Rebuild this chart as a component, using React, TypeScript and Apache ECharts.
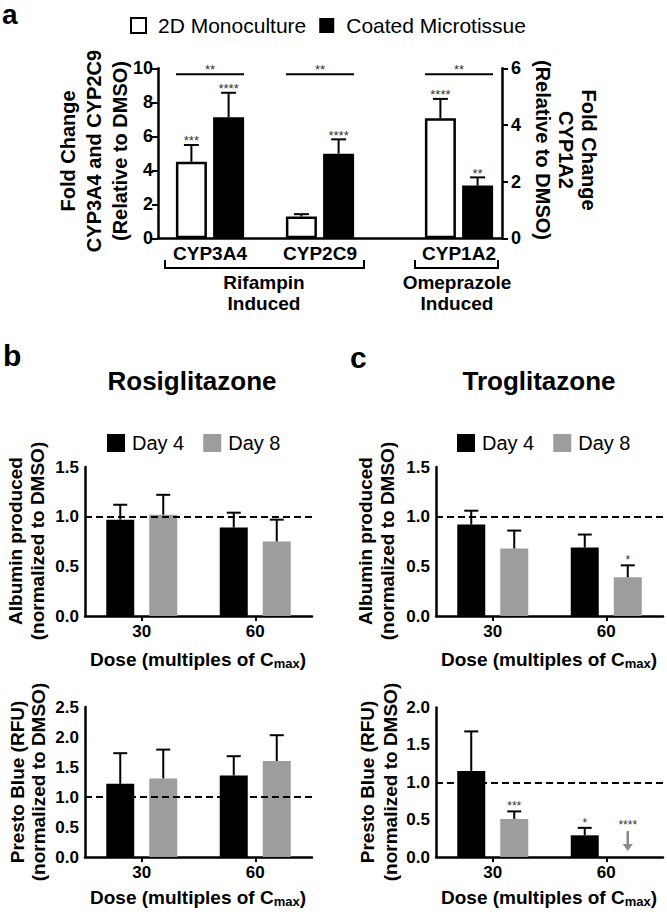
import React, { useEffect, useRef } from "react";
import * as echarts from "echarts";

const FONT = "'Liberation Sans', Arial, Helvetica, sans-serif";

// ---------------- Panel a data ----------------
const cypRifampin = ["CYP3A4", "CYP2C9"];
const cypOmeprazole = ["CYP1A2"];
const monoRifampin = [4.5, 1.28];
const monoRifampinErr = [0.99, 0.14];
const coatedRifampin = [7.12, 4.98];
const coatedRifampinErr = [1.44, 0.84];
const monoOmeprazole = [4.24];
const monoOmeprazoleErr = [0.68];
const coatedOmeprazole = [1.86];
const coatedOmeprazoleErr = [0.29];
const monoRifampinSig = ["***", ""];
const coatedRifampinSig = ["****", "****"];
const monoOmeprazoleSig = ["****"];
const coatedOmeprazoleSig = ["**"];
const pairRifampinSig = ["**", "**"];
const pairOmeprazoleSig = ["**"];
const leftAxisTicks = [0, 2, 4, 6, 8, 10];
const rightAxisTicks = [0, 2, 4, 6];

// ---------------- Panels b & c data ----------------
const doses = ["30", "60"];
const albuminTicks = [0, 0.5, 1.0, 1.5];
const rosiPrestoTicks = [0, 0.5, 1.0, 1.5, 2.0, 2.5];
const trogPrestoTicks = [0, 0.5, 1.0, 1.5, 2.0];

const rosiAlbDay4 = [0.97, 0.89];
const rosiAlbDay4Err = [0.15, 0.15];
const rosiAlbDay8 = [1.02, 0.75];
const rosiAlbDay8Err = [0.2, 0.22];
const rosiPrestoDay4 = [1.22, 1.36];
const rosiPrestoDay4Err = [0.51, 0.32];
const rosiPrestoDay8 = [1.31, 1.6];
const rosiPrestoDay8Err = [0.48, 0.43];

const trogAlbDay4 = [0.92, 0.69];
const trogAlbDay4Err = [0.14, 0.13];
const trogAlbDay8 = [0.68, 0.39];
const trogAlbDay8Err = [0.18, 0.12];
const trogPrestoDay4 = [1.15, 0.29];
const trogPrestoDay4Err = [0.53, 0.1];
const trogPrestoDay8 = [0.51, 0];
const trogPrestoDay8Err = [0.1, 0];
const trogAlbDay4Sig = ["", ""];
const trogAlbDay8Sig = ["", "*"];
const trogPrestoDay4Sig = ["", "*"];
const trogPrestoDay8Sig = ["***", "****"];
const trogPrestoDay8Undetected = [false, true];
const noSig = ["", ""];
const referenceLevel = 1.0;

// ---------------- helpers ----------------
const GRAY = "#9d9d9d";

function errorSeries(
  xAxisIndex: number,
  yAxisIndex: number,
  idx: number[],
  values: number[],
  errs: number[],
  sigs: string[],
  o: { offset: number; cap: number; lw: number; starSize: number; starGap: number; arrows?: boolean[] }
) {
  return {
    type: "custom",
    xAxisIndex,
    yAxisIndex,
    silent: true,
    z: 10,
    data: values.map((v, k) => [idx[k], v, errs[k], k]),
    renderItem: (_p: any, api: any) => {
      const cat = api.value(0);
      const v = api.value(1);
      const e = api.value(2);
      const k = api.value(3);
      const p0 = api.coord([cat, v]);
      const p1 = api.coord([cat, v + e]);
      const x = p0[0] + o.offset;
      const ch: any[] = [];
      const ls = { stroke: "#000", lineWidth: o.lw };
      if (e > 0) {
        ch.push({ type: "line", shape: { x1: x, y1: p0[1], x2: x, y2: p1[1] }, style: ls });
        ch.push({
          type: "line",
          shape: { x1: x - o.cap / 2, y1: p1[1], x2: x + o.cap / 2, y2: p1[1] },
          style: ls,
        });
      }
      const sig = sigs[k];
      let sy = p1[1] - o.starGap;
      if (o.arrows && o.arrows[k]) {
        const zero = api.coord([cat, 0])[1];
        ch.push({
          type: "line",
          shape: { x1: x, y1: zero - 26, x2: x, y2: zero - 12 },
          style: { stroke: "#8a8a8a", lineWidth: 2.5 },
        });
        ch.push({
          type: "polygon",
          shape: { points: [[x - 5, zero - 13], [x + 5, zero - 13], [x, zero - 6]] },
          style: { fill: "#8a8a8a" },
        });
        sy = zero - 32;
      }
      if (sig) {
        ch.push({
          type: "text",
          x,
          y: sy,
          style: {
            text: sig,
            fill: "#333",
            font: `${o.starSize}px ${FONT}`,
            align: "center",
            verticalAlign: "middle",
            textAlign: "center",
            textVerticalAlign: "middle",
          },
        });
      }
      return { type: "group", children: ch };
    },
  };
}

function pairSigSeries(xAxisIndex: number, yAxisIndex: number, idx: number[], sigs: string[], axisMax: number) {
  return {
    type: "custom",
    xAxisIndex,
    yAxisIndex,
    silent: true,
    z: 10,
    data: idx.map((c, k) => [c, axisMax, k]),
    renderItem: (_p: any, api: any) => {
      const p = api.coord([api.value(0), api.value(1)]);
      const k = api.value(2);
      const y = p[1] + 6;
      return {
        type: "group",
        children: [
          { type: "line", shape: { x1: p[0] - 34, y1: y, x2: p[0] + 34, y2: y }, style: { stroke: "#000", lineWidth: 2 } },
          {
            type: "text",
            x: p[0],
            y: y - 5,
            style: {
              text: sigs[k],
              fill: "#333",
              font: `13px ${FONT}`,
              align: "center",
              verticalAlign: "middle",
              textAlign: "center",
              textVerticalAlign: "middle",
            },
          },
        ],
      };
    },
  };
}

const axisLineStyle = { color: "#000", width: 2.5 };
const boldLabel = (size: number, margin: number) => ({
  color: "#000",
  fontFamily: FONT,
  fontWeight: "bold",
  fontSize: size,
  margin,
});

function valueAxis(gridIndex: number, ticks: number[], opts: any = {}) {
  return {
    type: "value",
    gridIndex,
    min: ticks[0],
    max: ticks[ticks.length - 1],
    interval: ticks[1] - ticks[0],
    axisLine: { show: true, lineStyle: axisLineStyle },
    axisTick: { show: true, length: 6, lineStyle: { color: "#000", width: 2 } },
    splitLine: { show: false },
    ...opts,
  };
}

function text(x: number, y: number, t: string, size: number, opts: any = {}) {
  return {
    type: "text",
    x,
    y,
    rotation: opts.rotation || 0,
    style: {
      text: t,
      fill: "#000",
      font: `${opts.weight || "bold"} ${size}px ${FONT}`,
      align: opts.align || "center",
      verticalAlign: "middle",
      textAlign: opts.align || "center",
      textVerticalAlign: "middle",
      rich: opts.rich,
    },
  };
}

const doseRich = {
  n: { fontFamily: FONT, fontWeight: "bold", fontSize: 19, lineHeight: 22, verticalAlign: "middle", fill: "#000", color: "#000" },
  sub: { fontFamily: FONT, fontWeight: "bold", fontSize: 13, lineHeight: 9, verticalAlign: "bottom", fill: "#000", color: "#000" },
};
const doseTitle = "{n|Dose (multiples of C}{sub|max}{n|)}";

export default function App() {
  const ref = useRef<HTMLDivElement>(null);
  useEffect(() => {
    if (!ref.current) return;
    const chart = echarts.init(ref.current, null, { renderer: "svg" });

    const omeprazoleSlots = ["s0", "s1", "s2", ...cypOmeprazole];
    const omeIdx = cypOmeprazole.map((c) => omeprazoleSlots.indexOf(c));
    const rifIdx = cypRifampin.map((_, i) => i);
    const doseIdx = doses.map((_, i) => i);

    const aBarW = 31;
    const aOff = (aBarW * 1.2) / 2;
    const bBarW = 28;
    const bOff = (bBarW * (1 + 15 / 28)) / 2;

    const whiteStyle = { color: "#fff", borderColor: "#000", borderWidth: 2.5 };
    const blackStyle = { color: "#000" };

    const aErr = { cap: 15, lw: 2, starSize: 13, starGap: 4 };
    const bErr = { cap: 14, lw: 2, starSize: 12, starGap: 5 };

    const dashed = {
      silent: true,
      symbol: ["none", "none"],
      label: { show: false },
      lineStyle: { type: [7, 4], color: "#000", width: 2 },
      data: [{ yAxis: referenceLevel }],
    };

    const barBC = (name: string, xi: number, data: number[], color: string, withLine: boolean) => ({
      type: "bar",
      name,
      xAxisIndex: xi,
      yAxisIndex: xi,
      data,
      barWidth: bBarW,
      barGap: `${(15 / 28) * 100}%`,
      itemStyle: { color },
      z: 2,
      markLine: withLine ? dashed : undefined,
    });

    const option: any = {
      animation: false,
      backgroundColor: "#fff",
      textStyle: { fontFamily: FONT },
      grid: [
        { left: 155, top: 68.3, width: 220, height: 170 },
        { left: 158, top: 68.3, width: 344, height: 170 },
        { left: 85, top: 467, width: 227, height: 149 },
        { left: 85, top: 707, width: 227, height: 150 },
        { left: 436, top: 467, width: 227, height: 149 },
        { left: 436, top: 707.5, width: 227, height: 149.5 },
      ],
      legend: [
        {
          left: 130,
          top: 15,
          padding: 0,
          itemWidth: 15,
          itemHeight: 15,
          itemGap: 13,
          icon: "rect",
          textStyle: { fontSize: 21, fontFamily: FONT, color: "#000", padding: [0, 0, 0, 7] },
          data: [
            { name: "2D Monoculture", itemStyle: { color: "#fff", borderColor: "#000", borderWidth: 2 } },
            { name: "Coated Microtissue", itemStyle: { color: "#000" } },
          ],
        },
        {
          left: 107,
          top: 433,
          padding: 0,
          itemWidth: 18,
          itemHeight: 18,
          itemGap: 19,
          icon: "rect",
          textStyle: { fontSize: 20, fontFamily: FONT, color: "#000", padding: [0, 0, 0, 2] },
          data: ["Day 4", "Day 8"],
        },
        {
          left: 457,
          top: 433,
          padding: 0,
          itemWidth: 18,
          itemHeight: 18,
          itemGap: 19,
          icon: "rect",
          textStyle: { fontSize: 20, fontFamily: FONT, color: "#000", padding: [0, 0, 0, 2] },
          data: ["Day 4", "Day 8"],
        },
      ],
      xAxis: [
        {
          type: "category",
          gridIndex: 0,
          data: cypRifampin,
          axisLine: { show: false },
          axisTick: { show: false },
          axisLabel: boldLabel(19, 6),
        },
        {
          type: "category",
          gridIndex: 1,
          data: omeprazoleSlots,
          axisLine: { show: true, lineStyle: axisLineStyle },
          axisTick: { show: false },
          axisLabel: { ...boldLabel(19, 6), interval: 0, formatter: (v: string) => (cypOmeprazole.includes(v) ? v : "") },
        },
        ...[2, 3, 4, 5].map((g) => ({
          type: "category",
          gridIndex: g,
          data: doses,
          axisLine: { show: true, lineStyle: axisLineStyle },
          axisTick: { show: true, alignWithLabel: true, length: 5, lineStyle: { color: "#000", width: 2 } },
          axisLabel: boldLabel(17, 7),
        })),
      ],
      yAxis: [
        valueAxis(0, leftAxisTicks, { offset: -3, axisLabel: boldLabel(18, 5) }),
        valueAxis(1, rightAxisTicks, { position: "right", axisLabel: boldLabel(18, 9) }),
        valueAxis(2, albuminTicks, { axisLabel: { ...boldLabel(17, 6), formatter: (v: number) => v.toFixed(1) }, axisTick: { length: 4, lineStyle: { color: "#000", width: 2 } } }),
        valueAxis(3, rosiPrestoTicks, { axisLabel: { ...boldLabel(17, 6), formatter: (v: number) => v.toFixed(1) }, axisTick: { length: 4, lineStyle: { color: "#000", width: 2 } } }),
        valueAxis(4, albuminTicks, { axisLabel: { ...boldLabel(17, 6), formatter: (v: number) => v.toFixed(1) }, axisTick: { length: 4, lineStyle: { color: "#000", width: 2 } } }),
        valueAxis(5, trogPrestoTicks, { axisLabel: { ...boldLabel(17, 6), formatter: (v: number) => v.toFixed(1) }, axisTick: { length: 4, lineStyle: { color: "#000", width: 2 } } }),
      ],
      series: [
        // panel a, rifampin (left axis)
        { type: "bar", name: "2D Monoculture", xAxisIndex: 0, yAxisIndex: 0, data: monoRifampin, barWidth: aBarW, barGap: "20%", itemStyle: whiteStyle, z: 2 },
        { type: "bar", name: "Coated Microtissue", xAxisIndex: 0, yAxisIndex: 0, data: coatedRifampin, barWidth: aBarW, barGap: "20%", itemStyle: blackStyle, z: 2 },
        // panel a, omeprazole (right axis)
        { type: "bar", name: "2D Monoculture", xAxisIndex: 1, yAxisIndex: 1, data: monoOmeprazole.map((v, i) => [omeIdx[i], v]), barWidth: aBarW, barGap: "20%", itemStyle: whiteStyle, z: 2 },
        { type: "bar", name: "Coated Microtissue", xAxisIndex: 1, yAxisIndex: 1, data: coatedOmeprazole.map((v, i) => [omeIdx[i], v]), barWidth: aBarW, barGap: "20%", itemStyle: blackStyle, z: 2 },
        errorSeries(0, 0, rifIdx, monoRifampin, monoRifampinErr, monoRifampinSig, { ...aErr, offset: -aOff }),
        errorSeries(0, 0, rifIdx, coatedRifampin, coatedRifampinErr, coatedRifampinSig, { ...aErr, offset: aOff }),
        errorSeries(1, 1, omeIdx, monoOmeprazole, monoOmeprazoleErr, monoOmeprazoleSig, { ...aErr, offset: -aOff }),
        errorSeries(1, 1, omeIdx, coatedOmeprazole, coatedOmeprazoleErr, coatedOmeprazoleSig, { ...aErr, offset: aOff }),
        pairSigSeries(0, 0, rifIdx, pairRifampinSig, leftAxisTicks[leftAxisTicks.length - 1]),
        pairSigSeries(1, 1, omeIdx, pairOmeprazoleSig, rightAxisTicks[rightAxisTicks.length - 1]),

        // panel b
        barBC("Day 4", 2, rosiAlbDay4, "#000", true),
        barBC("Day 8", 2, rosiAlbDay8, GRAY, false),
        barBC("Day 4", 3, rosiPrestoDay4, "#000", true),
        barBC("Day 8", 3, rosiPrestoDay8, GRAY, false),
        errorSeries(2, 2, doseIdx, rosiAlbDay4, rosiAlbDay4Err, noSig, { ...bErr, offset: -bOff }),
        errorSeries(2, 2, doseIdx, rosiAlbDay8, rosiAlbDay8Err, noSig, { ...bErr, offset: bOff }),
        errorSeries(3, 3, doseIdx, rosiPrestoDay4, rosiPrestoDay4Err, noSig, { ...bErr, offset: -bOff }),
        errorSeries(3, 3, doseIdx, rosiPrestoDay8, rosiPrestoDay8Err, noSig, { ...bErr, offset: bOff }),

        // panel c
        barBC("Day 4", 4, trogAlbDay4, "#000", true),
        barBC("Day 8", 4, trogAlbDay8, GRAY, false),
        barBC("Day 4", 5, trogPrestoDay4, "#000", true),
        barBC("Day 8", 5, trogPrestoDay8, GRAY, false),
        errorSeries(4, 4, doseIdx, trogAlbDay4, trogAlbDay4Err, trogAlbDay4Sig, { ...bErr, offset: -bOff }),
        errorSeries(4, 4, doseIdx, trogAlbDay8, trogAlbDay8Err, trogAlbDay8Sig, { ...bErr, offset: bOff }),
        errorSeries(5, 5, doseIdx, trogPrestoDay4, trogPrestoDay4Err, trogPrestoDay4Sig, { ...bErr, offset: -bOff }),
        errorSeries(5, 5, doseIdx, trogPrestoDay8, trogPrestoDay8Err, trogPrestoDay8Sig, { ...bErr, offset: bOff, arrows: trogPrestoDay8Undetected }),
      ],
      graphic: [
        // panel letters
        text(2, 14, "a", 28, { align: "left" }),
        text(3, 355, "b", 30, { align: "left" }),
        text(350, 357, "c", 30, { align: "left" }),
        // titles
        text(192, 381, "Rosiglitazone", 26),
        text(539, 381, "Troglitazone", 26),
        // panel a y titles
        text(68, 151, "Fold Change", 20, { rotation: Math.PI / 2 }),
        text(94, 151, "CYP3A4 and CYP2C9", 20, { rotation: Math.PI / 2 }),
        text(120, 151, "(Relative to DMSO)", 20, { rotation: Math.PI / 2 }),
        text(589, 150, "Fold Change", 20, { rotation: -Math.PI / 2 }),
        text(566, 150, "CYP1A2", 20, { rotation: -Math.PI / 2 }),
        text(543, 150, "(Relative to DMSO)", 20, { rotation: -Math.PI / 2 }),
        // panel a group brackets
        {
          type: "polyline",
          shape: { points: [[165, 260], [165, 268], [364, 268], [364, 260]] },
          style: { stroke: "#000", lineWidth: 2, fill: "none" },
        },
        {
          type: "polyline",
          shape: { points: [[415, 260], [415, 268], [498, 268], [498, 260]] },
          style: { stroke: "#000", lineWidth: 2, fill: "none" },
        },
        text(264, 282, "Rifampin", 19),
        text(264, 303, "Induced", 19),
        text(457, 282, "Omeprazole", 19),
        text(457, 303, "Induced", 19),
        // panel b/c y titles
        text(15, 541, "Albumin produced", 19, { rotation: Math.PI / 2 }),
        text(37, 541, "(normalized to DMSO)", 19, { rotation: Math.PI / 2 }),
        text(17, 782, "Presto Blue (RFU)", 19, { rotation: Math.PI / 2 }),
        text(38, 782, "(normalized to DMSO)", 19, { rotation: Math.PI / 2 }),
        text(365, 541, "Albumin produced", 19, { rotation: Math.PI / 2 }),
        text(387, 541, "(normalized to DMSO)", 19, { rotation: Math.PI / 2 }),
        text(367, 782, "Presto Blue (RFU)", 19, { rotation: Math.PI / 2 }),
        text(390, 782, "(normalized to DMSO)", 19, { rotation: Math.PI / 2 }),
        // x titles
        text(198, 659, doseTitle, 19, { rich: doseRich }),
        text(198, 897, doseTitle, 19, { rich: doseRich }),
        text(549, 659, doseTitle, 19, { rich: doseRich }),
        text(549, 897, doseTitle, 19, { rich: doseRich }),
      ],
    };

    chart.setOption(option);
    return () => chart.dispose();
  }, []);

  return (
    <div
      ref={ref}
      style={{ position: "fixed", left: 0, top: 0, width: 667, height: 912, background: "#fff" }}
    />
  );
}
